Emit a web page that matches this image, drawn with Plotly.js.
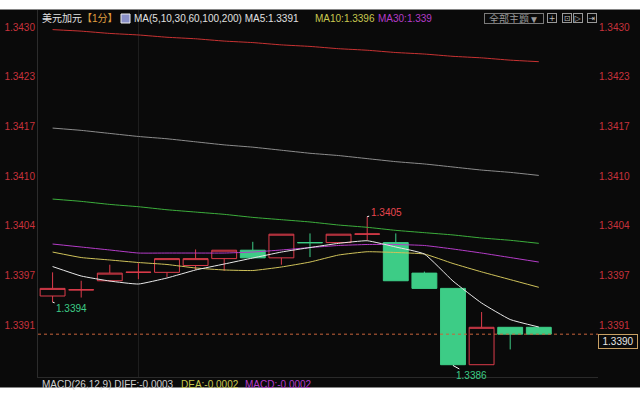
<!DOCTYPE html>
<html><head><meta charset="utf-8">
<script src="https://cdn.plot.ly/plotly-3.0.1.min.js"></script>
<style>html,body{margin:0;padding:0;background:#fff}#chart{width:640px;height:400px}</style>
</head><body><div id="chart"></div>
<script>
// ---- data ----
const bars = [0,1,2,3,4,5,6,7,8,9,10,11,12,13,14,15,16,17];
const opens  = [1.33948,1.33956,1.33968,1.33979,1.33979,1.33988,1.33997,1.34008,1.33998,1.34018,1.34018,1.34029,1.34018,1.33978,1.33958,1.33858,1.33907,1.33907];
const highs  = [1.33979,1.33968,1.33989,1.33991,1.33997,1.34009,1.34008,1.34019,1.34029,1.34030,1.34029,1.34052,1.34030,1.33980,1.33958,1.33927,1.33907,1.33907];
const lows   = [1.33940,1.33946,1.33967,1.33970,1.33973,1.33982,1.33981,1.33998,1.33989,1.33999,1.34018,1.34021,1.33968,1.33958,1.33857,1.33858,1.33878,1.33898];
const closes = [1.33958,1.339562,1.33978,1.339792,1.33997,1.33997,1.34008,1.33998,1.34029,1.340178,1.34029,1.340292,1.33968,1.33958,1.33858,1.33907,1.33898,1.33898];
const ma5   = [1.339866,1.339742,1.339676,1.339637,1.339716,1.339821,1.339899,1.339978,1.340056,1.340115,1.340170,1.340204,1.340122,1.340030,1.339676,1.339388,1.339172,1.339074];
const ma10  = [1.340056,1.339984,1.339952,1.339919,1.339893,1.339847,1.339821,1.339814,1.339860,1.339925,1.340017,1.340060,1.340050,1.340030,1.339906,1.339796,1.339695,1.339594];
const ma30  = [1.340161,1.340122,1.340083,1.340043,1.340043,1.340043,1.340043,1.340056,1.340083,1.340115,1.340142,1.340155,1.340155,1.340142,1.340096,1.340043,1.339984,1.339925];
const ma60  = [1.34075,1.34072,1.34068,1.34065,1.34061,1.34058,1.34055,1.34051,1.34048,1.34045,1.34041,1.34038,1.34034,1.34031,1.34028,1.34024,1.34021,1.34017];
const ma100 = [1.34168,1.34165,1.34161,1.34157,1.34154,1.34150,1.34146,1.34143,1.34139,1.34135,1.34132,1.34128,1.34124,1.34121,1.34117,1.34113,1.34110,1.34106];
const ma200 = [1.34297,1.34295,1.34292,1.34290,1.34287,1.34285,1.34282,1.34280,1.34277,1.34275,1.34272,1.34270,1.34267,1.34265,1.34262,1.34260,1.34257,1.34255];
const yTickVals = [1.3430,1.34235,1.3417,1.34105,1.3404,1.33975,1.3391];
const yTickText = ['1.3430','1.3423','1.3417','1.3410','1.3404','1.3397','1.3391'];
const dividerBars = [3];
const labelBars  = [0, 11, 14];
const labelKinds = ['low','high','low'];
const symbolName = '美元加元';
const periodText = '【1分】';
const maHeader = 'MA(5,10,30,60,100,200)';
const ma30Text = 'MA30:1.339';
const themeText = '全部主题▼';
const macdTexts = ['MACD(26,12,9) DIFF:-0.0003','DEA:-0.0002','MACD:-0.0002'];

// ---- style ----
const BG = '#0a0a0a', RED = '#dc3c4b', GREEN = '#3dcc86';
const FONT = 'Liberation Sans, Arial, Noto Sans CJK SC, sans-serif';
const L = 38, R = 598, T = 10, B = 377;
const px = x => (x - L) / (R - L);
const py = y => (B - y) / (B - T);

const lineTr = (y, color) => ({type:'scatter', mode:'lines', x:bars, y:y,
  line:{color:color, width:1, shape:'spline', smoothing:0.4}, hoverinfo:'skip', showlegend:false});

const traces = [
  {type:'candlestick', x:bars, open:opens, high:highs, low:lows, close:closes,
   increasing:{line:{color:RED, width:1}, fillcolor:BG},
   decreasing:{line:{color:GREEN, width:1}, fillcolor:GREEN},
   whiskerwidth:0, hoverinfo:'skip', showlegend:false},
  lineTr(ma200, '#c83232'),
  lineTr(ma100, '#8c8c8c'),
  lineTr(ma60, '#3cae3c'),
  lineTr(ma30, '#b43cc8'),
  lineTr(ma10, '#cfc25a'),
  lineTr(ma5, '#e8e8e8'),
  {type:'scatter', mode:'lines', x:bars, y:closes, yaxis:'y2', line:{width:0}, opacity:0, hoverinfo:'skip', showlegend:false}
];

const ann = [];
const txt = (x, y, text, color, opts) => ann.push(Object.assign({xref:'paper', yref:'paper', x:px(x), y:py(y),
  xanchor:'left', yanchor:'middle', showarrow:false, text:text, font:{family:FONT, size:10, color:color}}, opts||{}));

txt(40, 18.5, symbolName, '#e0e0e0');
txt(80, 18.5, periodText, '#e0a040');
txt(132, 18.5, maHeader + ' MA5:' + ma5[ma5.length-1].toFixed(4), '#e0e0e0');
txt(312.5, 18.5, 'MA10:' + ma10[ma10.length-1].toFixed(4), '#c8c850');
txt(376, 18.5, ma30Text, '#b43cc8');
txt(513.5, 18.3, themeText, '#9a9a9a', {xanchor:'center', width:58, height:9, borderpad:0, bordercolor:'#7a7a7a', borderwidth:1});
const icons = ['+','⊡','▷','⇥'];
const iconX = [551.5, 567, 578, 592];
icons.forEach((g,i)=>txt(iconX[i], 18, g, '#bbbbbb', {xanchor:'center', width:8, height:8, borderpad:0, bordercolor:'#999', borderwidth:1, font:{family:'DejaVu Sans', size:8, color:'#bbbbbb'}}));
txt(40, 384, macdTexts[0], '#d0d0d0');
txt(179, 384, macdTexts[1], '#c8c850');
txt(242.5, 384, macdTexts[2], '#b43cc8');

labelBars.forEach((b,i)=>{
  const hi = labelKinds[i] === 'high';
  const v = hi ? highs[b] : lows[b];
  ann.push({xref:'x', yref:'y', x:b, y:v, text:v.toFixed(4), showarrow:true, arrowhead:0, arrowwidth:1,
    arrowcolor:'#ffffff', ax: 19, ay: hi ? -4.5 : (b === 14 ? 10.5 : 6.3), standoff:0,
    font:{family:FONT, size:10, color: hi ? '#e8464f' : GREEN}});
});
const last = closes[closes.length-1];
ann.push({xref:'paper', yref:'y', x:1, y:last, xanchor:'left', yanchor:'middle', yshift:-7, showarrow:false,
  text:last.toFixed(4), width:36, height:11, borderpad:1, bordercolor:'#c8a064', borderwidth:1, bgcolor:BG,
  font:{family:FONT, size:10, color:'#e6e6e6'}});

const shapes = [
  {type:'rect', xref:'paper', yref:'paper', x0:px(0), x1:px(640), y0:py(0), y1:py(9.5), fillcolor:'#ffffff', line:{width:0}, layer:'below'},
  {type:'rect', xref:'paper', yref:'paper', x0:px(0), x1:px(640), y0:py(387.5), y1:py(400), fillcolor:'#ffffff', line:{width:0}, layer:'below'},
  {type:'line', xref:'paper', yref:'y', x0:0, x1:1, y0:last, y1:last, line:{color:'#c8643c', width:1, dash:'3px,3px'}},
  {type:'rect', xref:'paper', yref:'paper', x0:px(121), x1:px(130), y0:py(14), y1:py(23), fillcolor:'#8a90c8', line:{color:'#eeeeee', width:1}}
];

const yr = [1.338419, 1.343227];
const layout = {
  width:640, height:400, margin:{l:L, r:640-R, t:T, b:400-B},
  paper_bgcolor:BG, plot_bgcolor:BG, showlegend:false, boxgap:0.13, boxgroupgap:0,
  xaxis:{range:[-0.51, 19.07], showticklabels:false, tickvals:dividerBars, showgrid:true, gridcolor:'#1e1e1e',
    zeroline:false, showline:true, linecolor:'#2a2a2a', rangeslider:{visible:false}, fixedrange:true},
  yaxis:{range:yr, tickvals:yTickVals, ticktext:yTickText, showgrid:false, zeroline:false, showline:true,
    linecolor:'#2c2c2c', ticks:'', tickfont:{family:FONT, size:10, color:'#c8323c'}},
  yaxis2:{range:yr, overlaying:'y', side:'right', tickvals:yTickVals, ticktext:yTickText, showgrid:false,
    zeroline:false, showline:false, ticks:'', tickfont:{family:FONT, size:10, color:'#c8323c'}},
  annotations:ann, shapes:shapes
};
Plotly.newPlot('chart', traces, layout, {staticPlot:true, displayModeBar:false});
</script></body></html>
